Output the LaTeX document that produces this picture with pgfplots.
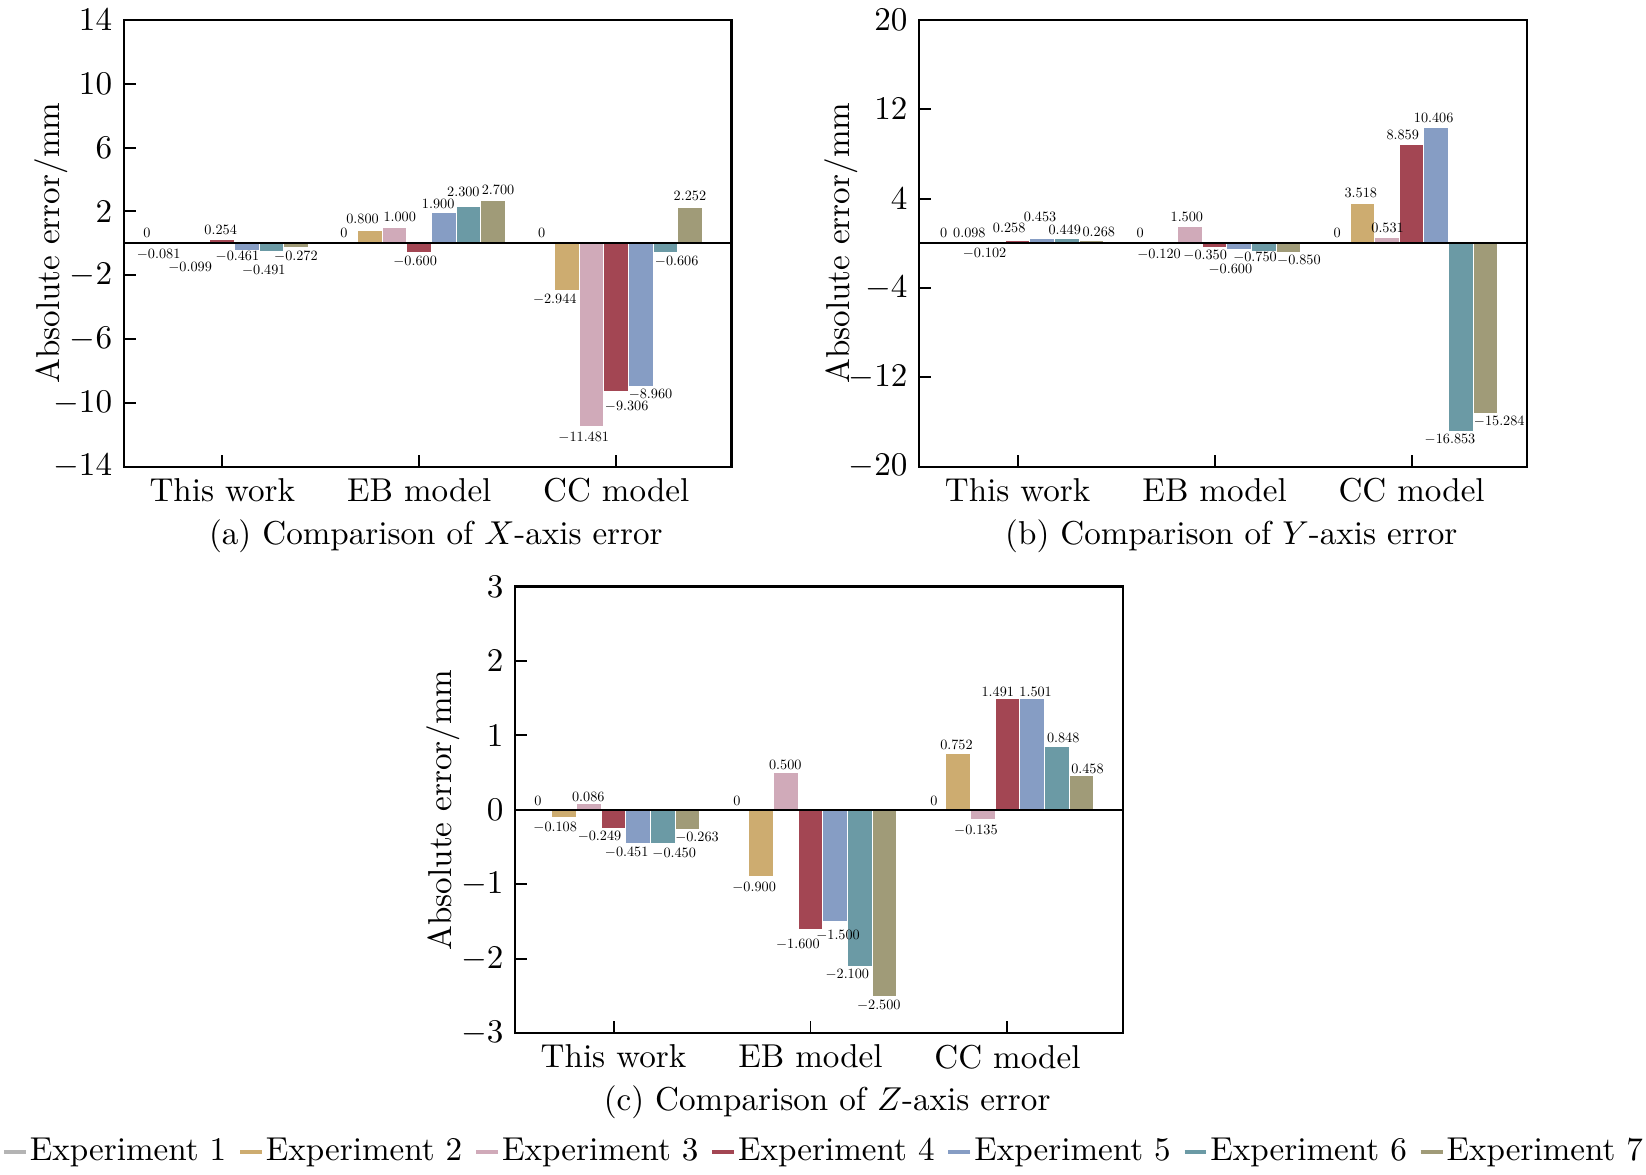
\documentclass[border=0pt]{standalone}
\usepackage{pgfplots}
\usepackage{pgfplotstable}
\pgfplotsset{compat=1.18}
\definecolor{c1}{HTML}{B4B4B4}
\definecolor{c2}{HTML}{CDAC70}
\definecolor{c3}{HTML}{D0AAB9}
\definecolor{c4}{HTML}{A34653}
\definecolor{c5}{HTML}{869DC4}
\definecolor{c6}{HTML}{6B9AA5}
\definecolor{c7}{HTML}{A09B78}

\pgfplotstableread{
x e1 e2 e3 e4 e5 e6 e7
0 0 -0.081 -0.099 0.254 -0.461 -0.491 -0.272
1 0 0.800 1.000 -0.600 1.900 2.300 2.700
2 0 -2.944 -11.481 -9.306 -8.960 -0.606 2.252
}\dataX
\pgfplotstableread{
x e1 e2 e3 e4 e5 e6 e7
0 0 0.098 -0.102 0.258 0.453 0.449 0.268
1 0 -0.120 1.500 -0.350 -0.600 -0.750 -0.850
2 0 3.518 0.531 8.859 10.406 -16.853 -15.284
}\dataY
\pgfplotstableread{
x e1 e2 e3 e4 e5 e6 e7
0 0 -0.108 0.086 -0.249 -0.451 -0.450 -0.263
1 0 -0.900 0.500 -1.600 -1.500 -2.100 -2.500
2 0 0.752 -0.135 1.491 1.501 0.848 0.458
}\dataZ

\newcommand{\lab}[3]{\node[scale=0.43, inner sep=0pt] at (axis cs:#1,#2) {#3};}
\newcommand{\bars}[1]{%
  \addplot[exp=c1] table[x expr=\thisrow{x}-0.375, y=e1] {#1};
  \addplot[exp=c2] table[x expr=\thisrow{x}-0.25, y=e2] {#1};
  \addplot[exp=c3] table[x expr=\thisrow{x}-0.125, y=e3] {#1};
  \addplot[exp=c4] table[x expr=\thisrow{x}, y=e4] {#1};
  \addplot[exp=c5] table[x expr=\thisrow{x}+0.125, y=e5] {#1};
  \addplot[exp=c6] table[x expr=\thisrow{x}+0.25, y=e6] {#1};
  \addplot[exp=c7] table[x expr=\thisrow{x}+0.375, y=e7] {#1};
  \draw[line width=0.7pt] (axis cs:-0.5,0) -- (axis cs:2.585,0);
}

\pgfplotsset{
  exp/.style={fill=#1, draw=white, line width=0.3pt, bar shift=0pt,
    legend image code/.code={\draw[line width=1.2pt, #1] (0pt,0pt) -- (6.6pt,0pt);}},
  myax/.style={
    scale only axis, width=183.6pt, height=135pt, anchor=north west,
    xmin=-0.5, xmax=2.585,
    xtick={0,1,2}, xticklabels={This work, EB model, CC model},
    ybar, bar width=0.125,
    tick align=inside, tick pos=left,
    major tick length=3.6pt,
    axis line style={line width=0.7pt},
    every tick/.style={black, line width=0.6pt},
    ylabel={Absolute error/mm},
    ylabel style={at={(axis description cs:-0.105,0.5)}, anchor=base},
    clip=false,
  },
}

\begin{document}
\begin{tikzpicture}
\path[use as bounding box] (0,0) rectangle (497.3pt,-354.7pt);

% (a)
\begin{axis}[myax, at={(37.4pt,-6pt)}, ymin=-14, ymax=14, ytick={-14,-10,-6,-2,2,6,10,14}]
\bars{\dataX}
\lab{-0.382}{0.63}{0}
\lab{-0.323}{-0.67}{$-$0.081}
\lab{-0.163}{-1.50}{$-$0.099}
\lab{-0.008}{0.83}{0.254}
\lab{0.077}{-0.83}{$-$0.461}
\lab{0.211}{-1.72}{$-$0.491}
\lab{0.374}{-0.83}{$-$0.272}
\lab{0.618}{0.63}{0}
\lab{0.712}{1.52}{0.800}
\lab{0.901}{1.63}{1.000}
\lab{0.979}{-1.16}{$-$0.600}
\lab{1.096}{2.46}{1.900}
\lab{1.224}{3.24}{2.300}
\lab{1.400}{3.35}{2.700}
\lab{1.621}{0.67}{0}
\lab{1.688}{-3.51}{$-$2.944}
\lab{1.835}{-12.14}{$-$11.481}
\lab{2.053}{-10.24}{$-$9.306}
\lab{2.174}{-9.46}{$-$8.960}
\lab{2.307}{-1.16}{$-$0.606}
\lab{2.374}{2.95}{2.252}
\node[anchor=base, xshift=2.5pt, yshift=-23.4pt] at (axis description cs:0.5,0) {(a) Comparison of $X$-axis error};
\end{axis}

% (b)
\begin{axis}[myax, at={(277.7pt,-6pt)}, ymin=-20, ymax=20, ytick={-20,-12,-4,4,12,20},
  ylabel style={at={(axis description cs:-0.115,0.5)}, anchor=base}]
\bars{\dataY}
\lab{-0.375}{0.89}{0}
\lab{-0.245}{0.89}{0.098}
\lab{-0.168}{-0.89}{$-$0.102}
\lab{-0.043}{1.34}{0.258}
\lab{0.114}{2.36}{0.453}
\lab{0.239}{1.18}{0.449}
\lab{0.412}{1.05}{0.268}
\lab{0.622}{0.89}{0}
\lab{0.718}{-1.02}{$-$0.120}
\lab{0.859}{2.36}{1.500}
\lab{0.952}{-1.09}{$-$0.350}
\lab{1.080}{-2.36}{$-$0.600}
\lab{1.205}{-1.28}{$-$0.750}
\lab{1.428}{-1.53}{$-$0.850}
\lab{1.622}{0.96}{0}
\lab{1.742}{4.54}{3.518}
\lab{1.878}{1.41}{0.531}
\lab{1.955}{9.68}{8.859}
\lab{2.112}{11.25}{10.406}
\lab{2.195}{-17.51}{$-$16.853}
\lab{2.445}{-15.91}{$-$15.284}
\node[anchor=base, xshift=2.5pt, yshift=-23.4pt] at (axis description cs:0.5,0) {(b) Comparison of $Y$-axis error};
\end{axis}

% (c)
\begin{axis}[myax, at={(155.6pt,-177.2pt)}, ymin=-3, ymax=3, ytick={-3,-2,-1,0,1,2,3},
  legend columns=7,
  legend style={at={(axis description cs:0.5076,-0.266)}, anchor=center, draw=none, fill=none,
    inner sep=0pt, nodes={inner xsep=0.6pt},
    /tikz/every even column/.append style={column sep=3.0pt}},
]
\bars{\dataZ}
\lab{-0.384}{0.125}{0}
\lab{-0.296}{-0.24}{$-$0.108}
\lab{-0.128}{0.18}{0.086}
\lab{-0.071}{-0.355}{$-$0.249}
\lab{0.067}{-0.565}{$-$0.451}
\lab{0.308}{-0.585}{$-$0.450}
\lab{0.424}{-0.369}{$-$0.263}
\lab{0.626}{0.125}{0}
\lab{0.714}{-1.04}{$-$0.900}
\lab{0.872}{0.60}{0.500}
\lab{0.936}{-1.81}{$-$1.600}
\lab{1.140}{-1.68}{$-$1.500}
\lab{1.187}{-2.21}{$-$2.100}
\lab{1.347}{-2.62}{$-$2.500}
\lab{1.626}{0.125}{0}
\lab{1.741}{0.87}{0.752}
\lab{1.840}{-0.28}{$-$0.135}
\lab{1.951}{1.58}{1.491}
\lab{2.143}{1.58}{1.501}
\lab{2.283}{0.97}{0.848}
\lab{2.406}{0.556}{0.458}
\node[anchor=base, xshift=2.5pt, yshift=-23.4pt] at (axis description cs:0.5,0) {(c) Comparison of $Z$-axis error};
\legend{Experiment 1, Experiment 2, Experiment 3, Experiment 4, Experiment 5, Experiment 6, Experiment 7}
\end{axis}
\end{tikzpicture}
\end{document}
